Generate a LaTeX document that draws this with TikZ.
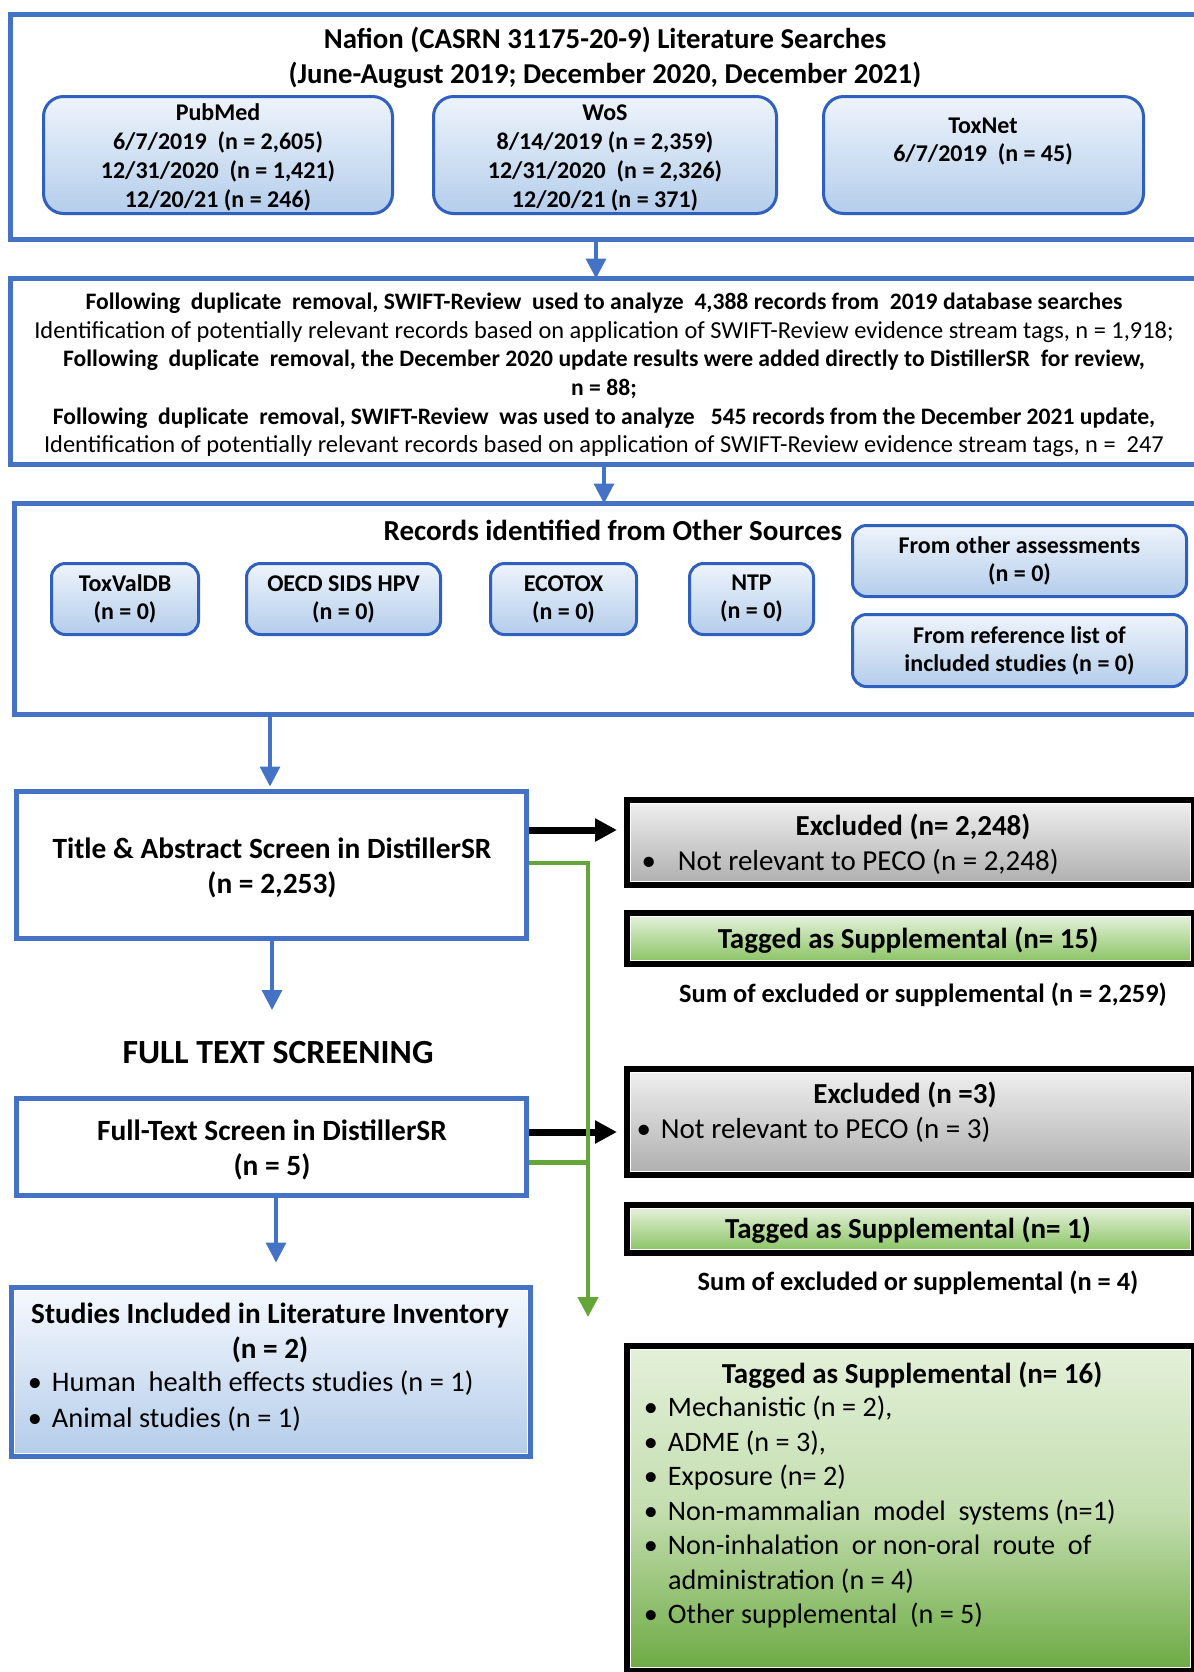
\documentclass[tikz,border=0pt]{standalone}
\usepackage{fontspec}
\setmainfont{Carlito}
\usetikzlibrary{arrows.meta,calc}
\definecolor{bigblue}{HTML}{4472C4}
\definecolor{rblue}{HTML}{2F5FBF}
\definecolor{shtop}{HTML}{EEF4FB}
\definecolor{shbot}{HTML}{B4CDEB}
\definecolor{ibtop}{HTML}{F4F8FD}
\definecolor{ibbot}{HTML}{B4CDEA}
\definecolor{gtop}{HTML}{EEEEEE}
\definecolor{gbot}{HTML}{B0B0B0}
\definecolor{grtop}{HTML}{E3F0D8}
\definecolor{grmid}{HTML}{C4DEB0}
\definecolor{grbot}{HTML}{6EAB45}
\definecolor{grbotb}{HTML}{8CC567}
\definecolor{lgreen}{HTML}{65A638}
\newcommand\mkbox[7]{\node[#1, minimum width={(#5-#3-2*(#7))*0.5pt}, minimum height={(#6-#4-2*(#7))*0.5pt}] (#2) at ({(#3+#5)/2},{(#4+#6)/2}) {};}
\newcommand\bul[1]{\llap{\textbullet\hspace{#1}}}
\begin{document}
\begin{tikzpicture}[x=0.5pt,y=-0.5pt,
 every node/.style={inner sep=0pt, outer sep=0pt},
 big/.style={draw=bigblue, line width=2.5pt, fill=white},
 rbox/.style={draw=rblue, line width=1.5pt, rounded corners=10pt, top color=shtop, bottom color=shbot},
 sbox/.style={rbox, rounded corners=7pt},
 wbox/.style={preaction={draw=bigblue, line width=5.5pt}, fill=white, draw=white, line width=0.6pt},
 ibox/.style={preaction={draw=bigblue, line width=5.5pt}, top color=ibtop, bottom color=ibbot, draw=white, line width=0.6pt},
 gbox/.style={preaction={draw=black, line width=6.5pt}, top color=gtop, bottom color=gbot, draw=white, line width=0.6pt},
 grbox/.style={preaction={draw=black, line width=6.5pt}, top color=grtop, bottom color=grbotb, draw=white, line width=0.6pt},
 grboxb/.style={preaction={draw=black, line width=6.5pt}, top color=grtop, bottom color=grbot, middle color=grmid, draw=white, line width=0.6pt},
 txt/.style={align=center},
 ltxt/.style={align=left, anchor=west},
 barrow/.style={draw=bigblue, line width=1.6pt, -{Triangle[width=10pt,length=10pt]}},
 karrow/.style={draw=black, line width=3.5pt, -{Triangle[width=11pt,length=11pt]}},
 garrow/.style={draw=lgreen, line width=2.2pt, line join=miter, -{Triangle[width=10pt,length=10pt]}},
 gline/.style={draw=lgreen, line width=2.5pt},
]
\useasboundingbox (0,0) rectangle (1194,1672);
\clip (0,0) rectangle (1194,1672);
\fill[white] (0,0) rectangle (1194,1672);

% boxes
\mkbox{big}{top}{8}{12}{1210}{242}{2.5}
\mkbox{rbox}{pub}{42}{95}{394}{215}{1.5}
\mkbox{rbox}{wos}{432}{95}{778}{215}{1.5}
\mkbox{rbox}{tox}{822}{95}{1145}{215}{1.5}
\mkbox{big}{box2}{8}{276}{1210}{467}{2.5}
\mkbox{big}{box3}{12}{501}{1210}{717}{2.5}
\mkbox{sbox}{tvd}{50}{562}{200}{636}{1.5}
\mkbox{sbox}{oecd}{245}{562}{442}{636}{1.5}
\mkbox{sbox}{eco}{489}{562}{638}{636}{1.5}
\mkbox{sbox}{ntp}{688}{562}{815}{636}{1.5}
\mkbox{sbox}{oth}{851}{524}{1188}{598}{1.5}
\mkbox{sbox}{refl}{851}{613}{1188}{688}{1.5}
\mkbox{wbox}{ta}{14}{789}{529}{941}{5.5}
\mkbox{gbox}{ex1}{624}{797}{1197}{888}{6.5}
\mkbox{grbox}{tg1}{624}{910}{1197}{967}{6.5}
\mkbox{wbox}{ft}{14}{1096}{529}{1198}{5.5}
\mkbox{gbox}{ex2}{624}{1066}{1197}{1178}{6.5}
\mkbox{grbox}{tg2}{624}{1202}{1197}{1256}{6.5}
\mkbox{ibox}{inc}{9}{1285}{533}{1459}{5.5}
\mkbox{grboxb}{tg3}{624}{1343}{1197}{1674}{6.5}

% texts
\node[txt, font=\fontsize{14.4}{17.5}\selectfont\bfseries] (ttl) at (605,57.5)
 {Nafion (CASRN 31175-20-9) Literature Searches\\(June-August 2019; December 2020, December 2021)};
\node[txt, font=\fontsize{12}{14.5}\selectfont\bfseries] (pubt) at (218,157.5)
 {PubMed\\6/7/2019\ \ (n = 2,605)\\12/31/2020\ \ (n = 1,421)\\12/20/21 (n = 246)};
\node[txt, font=\fontsize{12}{14.5}\selectfont\bfseries] (wost) at (605,157.5)
 {WoS\\8/14/2019 (n = 2,359)\\12/31/2020\ \ (n = 2,326)\\12/20/21 (n = 371)};
\node[txt, font=\fontsize{12}{14}\selectfont\bfseries] (toxt) at (983,142)
 {ToxNet\\6/7/2019\ \ (n = 45)};

\node[txt, font=\fontsize{11.8}{14.3}\selectfont] (b2t) at (604,375)
 {\textbf{Following\ \ duplicate\ \ removal, SWIFT-Review\ \ used to analyze\ \ 4,388 records from\ \ 2019 database searches}\\
  {\fontsize{12.2}{14.3}\selectfont Identification of potentially relevant records based on application of SWIFT-Review evidence stream tags, n = 1,918;}\\
  \textbf{Following\ \ duplicate\ \ removal, the December 2020 update results were added directly to DistillerSR\ \ for review,}\\
  \textbf{n = 88;}\\
  \textbf{Following\ \ duplicate\ \ removal, SWIFT-Review\ \ was used to analyze\ \ \ 545 records from the December 2021 update,}\\
  {\fontsize{12.2}{14.3}\selectfont Identification of potentially relevant records based on application of SWIFT-Review evidence stream tags, n =\ \ 247}};

\node[txt, font=\fontsize{14.5}{16}\selectfont\bfseries] (b3t) at (613,530) {Records identified from Other Sources};
\node[txt, font=\fontsize{12}{14}\selectfont\bfseries] (tvdt) at (125,599) {ToxValDB\\(n = 0)};
\node[txt, font=\fontsize{12}{14}\selectfont\bfseries] (oecdt) at (343.5,599) {OECD SIDS HPV\\(n = 0)};
\node[txt, font=\fontsize{12}{14}\selectfont\bfseries] (ecot) at (563.5,599) {ECOTOX\\(n = 0)};
\node[txt, font=\fontsize{12}{14}\selectfont\bfseries] (ntpt) at (751.5,599) {NTP\\(n = 0)};
\node[txt, font=\fontsize{12}{14}\selectfont\bfseries] (otht) at (1019.5,561) {From other assessments\\(n = 0)};
\node[txt, font=\fontsize{12}{14}\selectfont\bfseries] (reflt) at (1019.5,651) {From reference list of\\included studies (n = 0)};

\node[txt, font=\fontsize{14.7}{17.5}\selectfont\bfseries] (tat) at (272,867.5) {Title \& Abstract Screen in DistillerSR\\(n = 2,253)};
\node[txt, font=\fontsize{14.5}{16}\selectfont\bfseries] (ex1t) at (913,827) {Excluded (n= 2,248)};
\node[ltxt, font=\fontsize{14.5}{16}\selectfont] (ex1b) at (678,862) {\bul{11pt}Not relevant to PECO (n = 2,248)};
\node[txt, font=\fontsize{14.5}{16}\selectfont\bfseries] (tg1t) at (908,940) {Tagged as Supplemental (n= 15)};
\node[txt, font=\fontsize{13.2}{15}\selectfont\bfseries] (sum1) at (923,995) {Sum of excluded or supplemental (n = 2,259)};
\node[txt, font=\fontsize{16.9}{18}\selectfont\bfseries] (fts) at (278,1053) {FULL TEXT SCREENING};
\node[txt, font=\fontsize{14.7}{17.5}\selectfont\bfseries] (ftt) at (272,1149.5) {Full-Text Screen in DistillerSR\\(n = 5)};
\node[txt, font=\fontsize{14.5}{16}\selectfont\bfseries] (ex2t) at (905,1095) {Excluded (n =3)};
\node[ltxt, font=\fontsize{14.5}{16}\selectfont] (ex2b) at (661,1130) {\bul{5pt}Not relevant to PECO (n = 3)};
\node[txt, font=\fontsize{14.5}{16}\selectfont\bfseries] (tg2t) at (908,1230) {Tagged as Supplemental (n= 1)};
\node[txt, font=\fontsize{13.2}{15}\selectfont\bfseries] (sum2) at (918,1283) {Sum of excluded or supplemental (n = 4)};

\node[txt, font=\fontsize{14.6}{17.5}\selectfont\bfseries] (inct) at (270,1332.5) {Studies Included in Literature Inventory\\(n = 2)};
\node[ltxt, font=\fontsize{14.2}{18}\selectfont] (incb) at (52,1401)
 {\bul{5pt}Human\ \ health effects studies (n = 1)\\\bul{5pt}Animal studies (n = 1)};

\node[txt, font=\fontsize{14.5}{16}\selectfont\bfseries] (tg3t) at (912,1375) {Tagged as Supplemental (n= 16)};
\node[ltxt, font=\fontsize{14.1}{17.25}\selectfont] (tg3b) at (668,1512)
 {\bul{5pt}Mechanistic (n = 2),\\
  \bul{5pt}ADME (n = 3),\\
  \bul{5pt}Exposure (n= 2)\\
  \bul{5pt}Non-mammalian\ \ model\ \ systems (n=1)\\
  \bul{5pt}Non-inhalation\ \ or non-oral\ \ route\ \ of\\
  administration (n = 4)\\
  \bul{5pt}Other supplemental\ \ (n = 5)};

% connectors
\coordinate (a4tip) at (272,1010);
\coordinate (gtip) at (588,1317);
\draw[barrow] (top.south -| 596,0) -- (box2.north -| 596,0);
\draw[barrow] (box2.south -| 604,0) -- (box3.north -| 604,0);
\draw[barrow, shorten >=4pt] (box3.south -| 270,0) -- (ta.north -| 270,0);
\draw[barrow] (ta.south -| 272,0) -- (a4tip);
\draw[barrow, shorten >=14pt] (ft.south -| 276,0) -- (inc.north -| 276,0);
\draw[karrow, shorten <=2.75pt, shorten >=6.75pt] (ta.east |- 0,830) -- (ex1.west |- 0,830);
\draw[karrow, shorten <=2.75pt, shorten >=6.75pt] (ft.east |- 0,1132) -- (ex2.west |- 0,1132);
\draw[garrow, shorten <=2.75pt] (ta.east |- 0,863) -| (gtip);
\draw[gline, shorten <=2.75pt] (ft.east |- 0,1162) -- (gtip |- 0,1162);
\end{tikzpicture}
\end{document}
